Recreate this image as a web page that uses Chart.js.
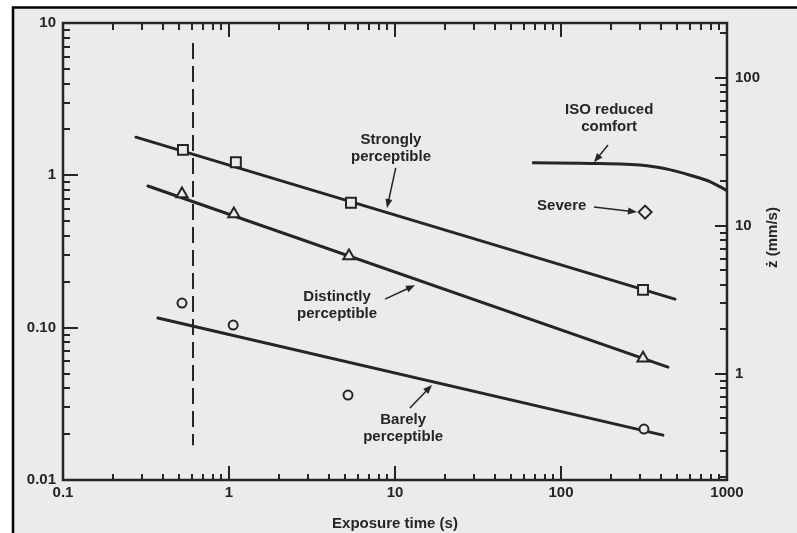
<!DOCTYPE html>
<html lang="en">
<head>
<meta charset="UTF-8">
<title>Perception thresholds vs exposure time</title>
<script src="https://cdn.jsdelivr.net/npm/chart.js"></script>
<style>
  html, body { margin: 0; padding: 0; background: #fff; }
  canvas { display: block; }
</style>
</head>
<body>
<canvas id="chart" width="797" height="533"></canvas>
<script>
// ---- data ----
const xTickValues = [0.1, 1, 10, 100, 1000];
const xTickLabels = ['0.1', '1', '10', '100', '1000'];
const yTickValues = [0.01, 0.1, 1, 10];
const yTickLabels = ['0.01', '0.10', '1', '10'];
const zTickValues = [1, 10, 100];
const zTickLabels = ['1', '10', '100'];

// strongly perceptible
const strongLineX = [0.275, 486];
const strongLineY = [1.78, 0.154];
const strongX = [0.528, 1.10, 5.43, 312];
const strongY = [1.47, 1.22, 0.66, 0.177];

// distinctly perceptible
const distinctLineX = [0.325, 441];
const distinctLineY = [0.851, 0.0551];
const distinctX = [0.521, 1.07, 5.28, 312];
const distinctY = [0.754, 0.557, 0.295, 0.0631];

// barely perceptible
const barelyLineX = [0.373, 411];
const barelyLineY = [0.1156, 0.0197];
const barelyX = [0.521, 1.06, 5.21, 316];
const barelyY = [0.145, 0.104, 0.0361, 0.0216];

// ISO reduced comfort (right axis, mm/s)
const isoX = [67, 170, 330, 450, 600, 800, 1000];
const isoZ = [26.7, 26.4, 25.5, 24.0, 22.0, 19.8, 17.3];

// severe (right axis)
const severeX = [321];
const severeZ = [12.4];

// dashed limit
const dashX = [0.607, 0.607];
const dashY = [7.39, 0.0169];

const ink = '#252525';
const paper = '#ebebeb';
const font = '"Liberation Sans", Arial, sans-serif';

const pts = (xs, ys) => xs.map((x, i) => ({ x, y: ys[i] }));

// annotations: text anchor + arrow in data coords (left axis)
const notes = [
  { lines: ['Strongly', 'perceptible'], x: 9.46, y: 1.71, arrow: [[10.1, 1.12], [8.95, 0.61]] },
  { lines: ['Distinctly', 'perceptible'], x: 4.48, y: 0.159, arrow: [[8.71, 0.154], [13.2, 0.19]] },
  { lines: ['Barely', 'perceptible'], x: 11.2, y: 0.0247, arrow: [[12.3, 0.0297], [16.7, 0.042]] },
  { lines: ['ISO reduced', 'comfort'], x: 195, y: 2.68, arrow: [[192, 1.58], [158, 1.22]] },
  { lines: ['Severe'], x: 101, y: 0.629, arrow: [[158, 0.619], [287, 0.574]] }
];

function logMarks(min, max) {
  const out = [];
  for (let e = Math.floor(Math.log10(min)); e <= Math.ceil(Math.log10(max)); e++) {
    for (let k = 1; k <= 9; k++) {
      const v = k * Math.pow(10, e);
      if (v > min * 1.001 && v < max * 0.999) out.push({ v, major: k === 1 });
    }
  }
  return out;
}

function arrow(ctx, x1, y1, x2, y2) {
  const a = Math.atan2(y2 - y1, x2 - x1);
  const len = 9, hw = 3.5;
  ctx.beginPath();
  ctx.moveTo(x1, y1);
  ctx.lineTo(x2 - Math.cos(a) * len * 0.8, y2 - Math.sin(a) * len * 0.8);
  ctx.stroke();
  ctx.beginPath();
  ctx.moveTo(x2, y2);
  ctx.lineTo(x2 - Math.cos(a) * len - Math.sin(a) * hw, y2 - Math.sin(a) * len + Math.cos(a) * hw);
  ctx.lineTo(x2 - Math.cos(a) * len + Math.sin(a) * hw, y2 - Math.sin(a) * len - Math.cos(a) * hw);
  ctx.closePath();
  ctx.fill();
}

const paperPlugin = {
  id: 'paper',
  beforeDraw(chart) {
    const ctx = chart.ctx;
    ctx.save();
    ctx.fillStyle = '#ffffff';
    ctx.fillRect(0, 0, chart.width, chart.height);
    ctx.fillStyle = paper;
    ctx.fillRect(12, 7, chart.width - 12, chart.height - 7);
    ctx.strokeStyle = '#000';
    ctx.lineWidth = 2.5;
    ctx.beginPath();
    ctx.moveTo(13, chart.height);
    ctx.lineTo(13, 7.5);
    ctx.lineTo(chart.width, 7.5);
    ctx.stroke();
    ctx.restore();
  }
};

const framePlugin = {
  id: 'frame',
  afterDraw(chart) {
    const { ctx, chartArea: ca, scales } = chart;
    const sx = scales.x, sy = scales.y, sz = scales.z;
    ctx.save();
    ctx.strokeStyle = ink;
    ctx.fillStyle = ink;
    ctx.lineWidth = 2;
    // inward tick marks
    ctx.beginPath();
    logMarks(sx.min, sx.max).forEach(t => {
      const p = Math.round(sx.getPixelForValue(t.v));
      ctx.moveTo(p, ca.bottom); ctx.lineTo(p, ca.bottom - (t.major ? 14 : 6));
      ctx.moveTo(p, ca.top); ctx.lineTo(p, ca.top + (t.major ? 14 : 7));
    });
    logMarks(sy.min, sy.max).forEach(t => {
      const p = Math.round(sy.getPixelForValue(t.v));
      ctx.moveTo(ca.left, p); ctx.lineTo(ca.left + (t.major ? 15 : 7), p);
    });
    logMarks(sz.min, sz.max).forEach(t => {
      const p = Math.round(sz.getPixelForValue(t.v));
      ctx.moveTo(ca.right, p); ctx.lineTo(ca.right - (t.major ? 12 : 7), p);
    });
    ctx.stroke();
    // axes box
    ctx.lineWidth = 2.5;
    ctx.strokeRect(ca.left, ca.top, ca.right - ca.left, ca.bottom - ca.top);

    // annotations
    ctx.font = 'bold 15px ' + font;
    ctx.textAlign = 'center';
    ctx.textBaseline = 'middle';
    ctx.lineWidth = 1.5;
    notes.forEach(n => {
      const tx = sx.getPixelForValue(n.x), ty = sy.getPixelForValue(n.y);
      n.lines.forEach((s, i) => ctx.fillText(s, tx, ty + i * 17));
      const a = n.arrow;
      arrow(ctx, sx.getPixelForValue(a[0][0]), sy.getPixelForValue(a[0][1]),
        sx.getPixelForValue(a[1][0]), sy.getPixelForValue(a[1][1]));
    });

    // right axis title
    ctx.save();
    ctx.translate(ca.right + 46, (ca.top + ca.bottom) / 2 - 14);
    ctx.rotate(-Math.PI / 2);
    ctx.fillText('\u017C (mm/s)', 0, 0);
    ctx.restore();
    ctx.restore();
  }
};

const lineDs = (xs, ys, axis) => ({
  data: pts(xs, ys), yAxisID: axis || 'y', showLine: true, order: 2,
  borderColor: ink, borderWidth: 3, pointRadius: 0, borderCapStyle: 'round'
});
const markDs = (xs, ys, style, r, axis) => ({
  data: pts(xs, ys), yAxisID: axis || 'y', showLine: false, order: 1,
  pointStyle: style, pointRadius: r, pointBorderWidth: 2,
  pointBorderColor: ink, pointBackgroundColor: paper
});

const tickFont = { family: font, size: 15, weight: 'bold' };

new Chart(document.getElementById('chart'), {
  type: 'scatter',
  data: {
    datasets: [
      lineDs(strongLineX, strongLineY),
      lineDs(distinctLineX, distinctLineY),
      lineDs(barelyLineX, barelyLineY),
      Object.assign(lineDs(isoX, isoZ, 'z'), { cubicInterpolationMode: 'monotone', borderCapStyle: 'butt' }),
      Object.assign(lineDs(dashX, dashY), { borderWidth: 2, borderDash: [16, 7], borderCapStyle: 'butt' }),
      markDs(strongX, strongY, 'rect', 7),
      markDs(distinctX, distinctY, 'triangle', 6.5),
      markDs(barelyX, barelyY, 'circle', 4.5),
      markDs(severeX, severeZ, 'rectRot', 6.5, 'z')
    ]
  },
  options: {
    responsive: false,
    animation: false,
    layout: { padding: { top: 23, left: 0, right: 0, bottom: 0 } },
    plugins: { legend: { display: false }, tooltip: { enabled: false } },
    scales: {
      x: {
        type: 'logarithmic', min: 0.1, max: 1000,
        grid: { display: false, drawTicks: false }, border: { display: false },
        afterBuildTicks: s => { s.ticks = xTickValues.map(v => ({ value: v })); },
        afterFit: s => { s.height = 53; },
        ticks: { color: ink, font: tickFont, padding: 4, maxRotation: 0, autoSkip: false,
          callback: (v, i) => xTickLabels[i] },
        title: { display: true, text: 'Exposure time (s)', color: ink, font: tickFont, padding: { top: 6, bottom: 0 } }
      },
      y: {
        type: 'logarithmic', position: 'left', min: 0.01, max: 10,
        grid: { display: false, drawTicks: false }, border: { display: false },
        afterBuildTicks: s => { s.ticks = yTickValues.map(v => ({ value: v })); },
        afterFit: s => { s.width = 63; },
        ticks: { color: ink, font: tickFont, padding: 7, autoSkip: false,
          callback: (v, i) => yTickLabels[i] }
      },
      z: {
        type: 'logarithmic', position: 'right', min: 0.192, max: 235,
        grid: { display: false, drawTicks: false }, border: { display: false },
        afterBuildTicks: s => { s.ticks = zTickValues.map(v => ({ value: v })); },
        afterFit: s => { s.width = 70; },
        ticks: { color: ink, font: tickFont, padding: 8, autoSkip: false,
          callback: (v, i) => zTickLabels[i] }
      }
    }
  },
  plugins: [paperPlugin, framePlugin]
});
</script>
</body>
</html>
